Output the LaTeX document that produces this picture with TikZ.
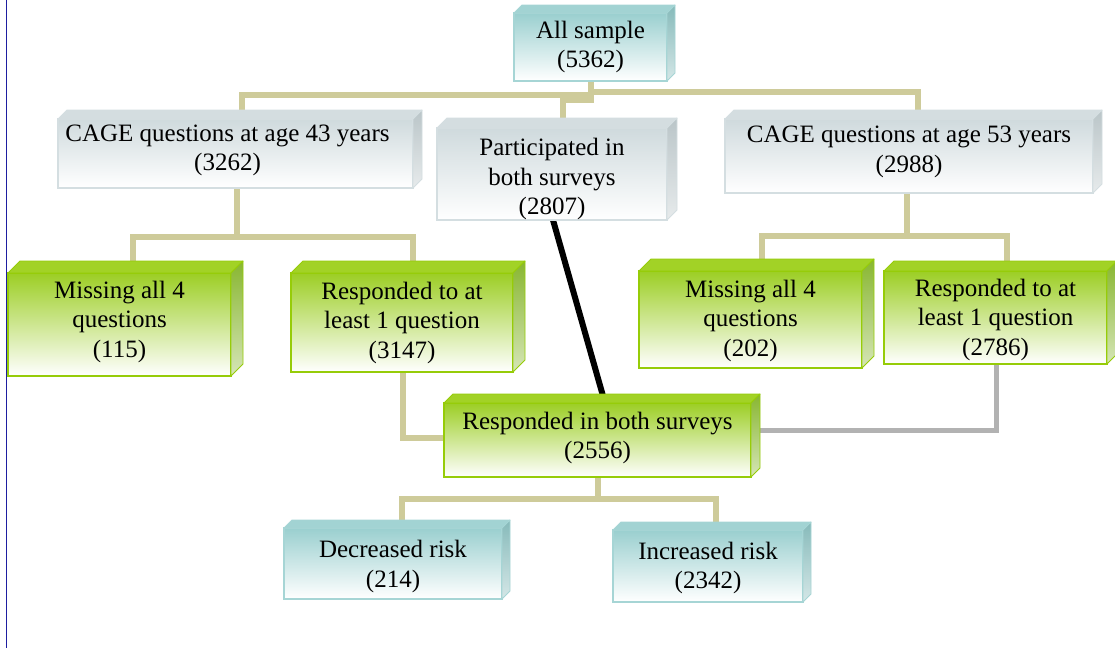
\documentclass[tikz,border=0pt]{standalone}
\usepackage{fontspec}
\setmainfont{Liberation Serif}
\pgfdeclarelayer{bg}
\pgfsetlayers{bg,main}

\definecolor{tealA}{RGB}{154,207,207}
\definecolor{tealEdge}{RGB}{166,213,213}
\definecolor{tealTop}{RGB}{162,211,211}
\definecolor{tealSide}{RGB}{134,186,186}
\definecolor{grayA}{RGB}{207,218,221}
\definecolor{grayEdge}{RGB}{212,222,225}
\definecolor{grayTop}{RGB}{212,221,224}
\definecolor{graySide}{RGB}{186,197,200}
\definecolor{greenA}{RGB}{156,206,36}
\definecolor{greenEdge}{RGB}{150,204,8}
\definecolor{greenTop}{RGB}{162,210,38}
\definecolor{greenSide}{RGB}{136,182,48}
\definecolor{linktan}{RGB}{206,203,154}
\definecolor{linkgray}{RGB}{178,178,178}
\definecolor{siderule}{RGB}{30,30,160}

% top and right faces that give each box its depth
\newcommand\solidfaces[3]{%
  \fill[#3Top, draw=#3Edge, line width=0.8pt, line join=round]
    (#1.north west) -- ++(#2,-#2) -- ([shift={(#2,-#2)}]#1.north east)
    -- (#1.north east) -- cycle;
  \shade[top color=#3Side, bottom color=#3Side!35!white, draw=#3Edge,
    line width=0.8pt, line join=round]
    (#1.north east) -- ++(#2,-#2) -- ([shift={(#2,-#2)}]#1.south east)
    -- (#1.south east) -- cycle;
}

\tikzset{
  face/.style={rectangle, line width=1.2pt, inner sep=0pt, outer sep=0pt},
  tealbox/.style={face, draw=tealEdge, top color=tealA,
    middle color=tealA!40!white, bottom color=white},
  graybox/.style={face, draw=grayEdge, top color=grayA,
    middle color=grayA!45!white, bottom color=white},
  greenbox/.style={face, draw=greenEdge, top color=greenA,
    middle color=greenA!40!white, bottom color=white},
  txt/.style={align=center, inner sep=0pt, text=black},
  link/.style={draw=linktan, line width=6pt},
  linkg/.style={draw=linkgray, line width=5pt},
  linkb/.style={draw=black, line width=6pt},
}

\begin{document}
\begin{tikzpicture}[x=1pt, y=-1pt, font=\fontsize{25}{29.5}\selectfont]
\useasboundingbox (0,0) rectangle (1115,648);
\begin{pgfonlayer}{bg}
  \fill[white] (0,0) rectangle (1115,648);
\end{pgfonlayer}

% boxes (front faces)
\node[tealbox, minimum width=153pt, minimum height=68pt] (all) at (590.5,47) {};
\node[graybox, minimum width=355pt, minimum height=69pt] (c43) at (235.5,153.5) {};
\node[graybox, minimum width=230pt, minimum height=92pt] (part) at (552,174) {};
\node[graybox, minimum width=368pt, minimum height=74pt] (c53) at (909,156) {};
\node[greenbox, minimum width=223pt, minimum height=103pt] (miss1) at (119.5,324.5) {};
\node[greenbox, minimum width=222pt, minimum height=99pt] (resp1) at (402,322.5) {};
\node[greenbox, minimum width=223pt, minimum height=97pt] (miss2) at (750.5,319.5) {};
\node[greenbox, minimum width=223pt, minimum height=93pt] (resp2) at (995.5,317.5) {};
\node[greenbox, minimum width=307pt, minimum height=74pt] (both) at (597.5,440) {};
\node[tealbox, minimum width=218pt, minimum height=71pt] (dec) at (393,563.5) {};
\node[tealbox, minimum width=190pt, minimum height=72pt] (inc) at (708,566) {};

\solidfaces{all}{8}{teal}
\solidfaces{c43}{9}{gray}
\solidfaces{part}{10}{gray}
\solidfaces{c53}{9}{gray}
\solidfaces{miss1}{12}{green}
\solidfaces{resp1}{12}{green}
\solidfaces{miss2}{12}{green}
\solidfaces{resp2}{10}{green}
\solidfaces{both}{9}{green}
\solidfaces{dec}{8}{teal}
\solidfaces{inc}{8}{teal}

% labels
\node[txt] (all-t) at (all.center) {All sample\\(5362)};
\node[txt] (c43-t) at ([xshift=-8pt,yshift=3pt]c43.center) {CAGE questions at age 43 years\\(3262)};
\node[txt] (part-t) at ([yshift=-5pt]part.center) {Participated in\\both surveys\\(2807)};
\node[txt] (c53-t) at ([yshift=4pt]c53.center) {CAGE questions at age 53 years\\(2988)};
\node[txt] (miss1-t) at ([yshift=3pt]miss1.center) {Missing all 4\\questions\\(115)};
\node[txt] (resp1-t) at (resp1.center) {Responded to at\\least 1 question\\(3147)};
\node[txt] (miss2-t) at ([yshift=-1pt]miss2.center) {Missing all 4\\questions\\(202)};
\node[txt] (resp2-t) at ([yshift=-2pt]resp2.center) {Responded to at\\least 1 question\\(2786)};
\node[txt] (both-t) at ([yshift=2pt]both.center) {Responded in both surveys\\(2556)};
\node[txt] (dec-t) at ([yshift=-3pt]dec.center) {Decreased risk\\(214)};
\node[txt] (inc-t) at ([yshift=-2pt]inc.center) {Increased risk\\(2342)};

% connectors, behind the boxes
\begin{pgfonlayer}{bg}
  \draw[siderule, line width=1.6pt] (6.5,0) -- (6.5,648);
  \draw[link] (all.south) -- ++(0,14) -| ([xshift=6.5pt]c43.north);
  \draw[link] (all.south) -- ++(0,11) -| ([xshift=9pt]c53.north);
  \draw[link] (all.south) -- ++(0,19) -| ([xshift=11pt]part.north);
  \draw[link] ([xshift=1.5pt]c43.south) -- ++(0,49) -| ([xshift=13.5pt]miss1.north);
  \draw[link] ([xshift=1.5pt]c43.south) -- ++(0,49) -| ([xshift=11pt]resp1.north);
  \draw[link] ([xshift=-2pt]c53.south) -- ++(0,43) -| ([xshift=11.5pt]miss2.north);
  \draw[link] ([xshift=-2pt]c53.south) -- ++(0,43) -| ([xshift=11.5pt]resp2.north);
  \draw[link] ([xshift=1pt]resp1.south) |- ([yshift=2pt]both.west);
  \draw[linkg] ([xshift=0.5pt]resp2.south) |- ([yshift=10pt]both.east);
  \draw[linkb] ([xshift=1pt]part.south) -- ([xshift=7.5pt]both.north);
  \draw[link] (both.south) -- ++(0,22) -| ([xshift=9pt]dec.north);
  \draw[link] (both.south) -- ++(0,22) -| ([xshift=8pt]inc.north);
\end{pgfonlayer}
\end{tikzpicture}
\end{document}
